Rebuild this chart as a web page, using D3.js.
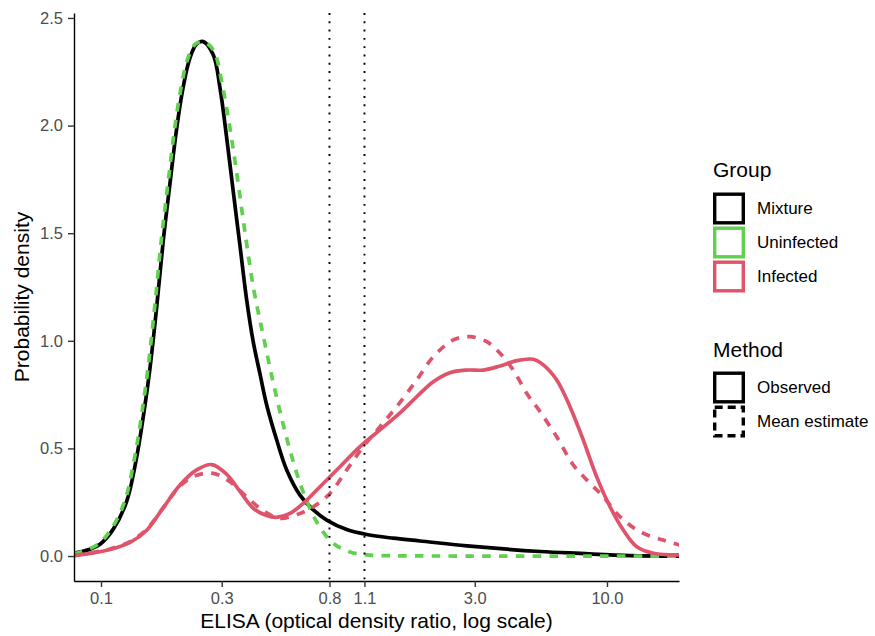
<!DOCTYPE html>
<html>
<head>
<meta charset="utf-8">
<script src="https://cdn.jsdelivr.net/npm/d3@7"></script>
<style>
body { margin: 0; background: #fff; }
text { font-family: "Liberation Sans", Arial, sans-serif; }
</style>
</head>
<body>
<div id="chart"></div>
<script>
var width = 875, height = 636;

// ELISA values (log axis) and densities
var mixtureX = [0.0782, 0.0905, 0.0991, 0.1118, 0.1264, 0.1384, 0.1469, 0.1562, 0.166, 0.1763, 0.1874, 0.1992, 0.2114, 0.2247, 0.2388, 0.2536, 0.2779, 0.2953, 0.3139, 0.3334, 0.3543, 0.3765, 0.3999, 0.425, 0.4517, 0.4949, 0.542, 0.6116, 0.6908, 0.78, 0.9358, 1.1225, 1.426, 1.823, 2.797, 5.435, 7.824, 12.33, 19.3];
var mixtureObserved = [0.013, 0.032, 0.055, 0.125, 0.255, 0.461, 0.647, 0.874, 1.158, 1.468, 1.733, 1.989, 2.181, 2.314, 2.379, 2.390, 2.328, 2.175, 1.942, 1.691, 1.441, 1.190, 0.994, 0.846, 0.702, 0.539, 0.400, 0.283, 0.214, 0.167, 0.123, 0.100, 0.083, 0.070, 0.047, 0.021, 0.012, 0.002, 0.0];

var uninfectedX = [0.0782, 0.0826, 0.0973, 0.1098, 0.1241, 0.1359, 0.1443, 0.1534, 0.163, 0.1731, 0.184, 0.1956, 0.2076, 0.2206, 0.2366, 0.2536, 0.2779, 0.3042, 0.3334, 0.365, 0.3999, 0.438, 0.4798, 0.5255, 0.5756, 0.6304, 0.7123, 0.8259, 0.9643, 1.1225, 1.388, 2.5, 19.3];
var uninfectedMean = [0.012, 0.018, 0.055, 0.125, 0.255, 0.461, 0.647, 0.874, 1.158, 1.468, 1.733, 1.989, 2.181, 2.314, 2.380, 2.390, 2.351, 2.165, 1.887, 1.561, 1.250, 1.022, 0.804, 0.609, 0.437, 0.297, 0.158, 0.060, 0.019, 0.005, 0.0015, 0.0, 0.0];

var infectedX = [0.0782, 0.0905, 0.1085, 0.1302, 0.1516, 0.1763, 0.2052, 0.2388, 0.2739, 0.3139, 0.3542, 0.3999, 0.4518, 0.4949, 0.5585, 0.6303, 0.7337, 0.8805, 1.056, 1.267, 1.52, 1.769, 2.058, 2.395, 2.789, 3.245, 3.777, 4.397, 5.114, 5.6, 6.328, 7.141, 8.058, 9.107, 10.28, 11.6, 13.11, 15.24, 19.4];
var infectedObserved = [0.002, 0.012, 0.030, 0.063, 0.120, 0.225, 0.330, 0.400, 0.425, 0.380, 0.300, 0.222, 0.188, 0.180, 0.198, 0.245, 0.322, 0.415, 0.508, 0.586, 0.665, 0.740, 0.810, 0.852, 0.864, 0.864, 0.883, 0.908, 0.914, 0.888, 0.818, 0.694, 0.539, 0.368, 0.229, 0.121, 0.043, 0.013, 0.005];

var infectedMeanX = [0.0782, 0.0905, 0.1085, 0.1302, 0.1516, 0.1763, 0.2052, 0.2388, 0.2779, 0.3236, 0.3765, 0.438, 0.51, 0.6116, 0.6902, 0.8038, 0.9358, 1.088, 1.267, 1.475, 1.769, 2.058, 2.469, 2.874, 3.346, 3.777, 4.262, 4.815, 5.435, 6.328, 7.359, 8.566, 9.669, 11.25, 13.5, 16.69, 19.4];
var infectedMean = [0.002, 0.014, 0.033, 0.067, 0.125, 0.225, 0.325, 0.375, 0.384, 0.345, 0.275, 0.210, 0.175, 0.198, 0.229, 0.291, 0.400, 0.508, 0.601, 0.694, 0.818, 0.926, 1.004, 1.019, 0.996, 0.942, 0.864, 0.756, 0.671, 0.554, 0.423, 0.338, 0.276, 0.183, 0.113, 0.074, 0.051];

var xTicks = [0.1, 0.3, 0.8, 1.1, 3, 10];
var xTickLabels = ["0.1", "0.3", "0.8", "1.1", "3.0", "10.0"];
var yTicks = [0, 0.5, 1, 1.5, 2, 2.5];
var cutoffs = [0.8, 1.1];

var groupNames = ["Mixture", "Uninfected", "Infected"];
var groupColors = ["#000000", "#61D04F", "#DF536B"];
var methodNames = ["Observed", "Mean estimate"];

var panel = {left: 74, right: 679, top: 13, bottom: 581};

var x = d3.scaleLog()
    .domain([0.0782, 19.26])
    .range([panel.left, panel.right]);

var y = d3.scaleLinear()
    .domain([-0.116, 2.523])
    .range([panel.bottom, panel.top]);

var svg = d3.select("#chart")
    .append("svg")
    .attr("width", width)
    .attr("height", height);

svg.append("defs").append("clipPath")
    .attr("id", "panel-clip")
    .append("rect")
    .attr("x", panel.left)
    .attr("y", panel.top)
    .attr("width", panel.right - panel.left)
    .attr("height", panel.bottom - panel.top);

function zip(xs, ys) {
    return xs.map(function(v, i) { return [v, ys[i]]; });
}

var series = [
    {values: zip(mixtureX, mixtureObserved), color: groupColors[0], dashed: false},
    {values: zip(uninfectedX, uninfectedMean), color: groupColors[1], dashed: true},
    {values: zip(infectedX, infectedObserved), color: groupColors[2], dashed: false},
    {values: zip(infectedMeanX, infectedMean), color: groupColors[2], dashed: true}
];

var line = d3.line()
    .curve(d3.curveCatmullRom.alpha(0.5))
    .x(function(d) { return x(d[0]); })
    .y(function(d) { return y(d[1]); });

svg.append("g")
    .attr("clip-path", "url(#panel-clip)")
    .selectAll("path")
    .data(series)
    .enter().append("path")
    .attr("d", function(d) { return line(d.values); })
    .attr("fill", "none")
    .attr("stroke", function(d) { return d.color; })
    .attr("stroke-width", 3.7)
    .attr("stroke-dasharray", function(d) { return d.dashed ? "8.6,8.2" : null; });

// cut-off lines
svg.append("g").selectAll("line")
    .data(cutoffs)
    .enter().append("line")
    .attr("x1", function(d) { return x(d); })
    .attr("x2", function(d) { return x(d); })
    .attr("y1", panel.top)
    .attr("y2", panel.bottom)
    .attr("stroke", "#000")
    .attr("stroke-width", 1.9)
    .attr("stroke-dasharray", "1.9,6.4");

// axes
var xAxis = svg.append("g")
    .attr("transform", "translate(0," + panel.bottom + ")")
    .call(d3.axisBottom(x)
        .tickValues(xTicks)
        .tickFormat(function(d, i) { return xTickLabels[i]; })
        .tickSize(6)
        .tickSizeOuter(0)
        .tickPadding(5));

var yAxis = svg.append("g")
    .attr("transform", "translate(" + panel.left + ",0)")
    .call(d3.axisLeft(y)
        .tickValues(yTicks)
        .tickFormat(d3.format(".1f"))
        .tickSize(6)
        .tickSizeOuter(0)
        .tickPadding(5));

[xAxis, yAxis].forEach(function(g) {
    g.select(".domain").attr("stroke", "#000").attr("stroke-width", 1.4);
    g.selectAll(".tick line").attr("stroke", "#333").attr("stroke-width", 1.4);
    g.selectAll(".tick text")
        .attr("fill", "#4d4d4d")
        .style("font-size", "16.5px")
        .style("font-family", "Liberation Sans, Arial, sans-serif");
});

svg.append("text")
    .attr("x", (panel.left + panel.right) / 2)
    .attr("y", 628)
    .attr("text-anchor", "middle")
    .style("font-size", "21px")
    .text("ELISA (optical density ratio, log scale)");

svg.append("text")
    .attr("transform", "translate(29," + ((panel.top + panel.bottom) / 2) + ") rotate(-90)")
    .attr("text-anchor", "middle")
    .style("font-size", "21px")
    .text("Probability density");

// legends
var legendX = 713;

svg.append("text")
    .attr("x", legendX)
    .attr("y", 177)
    .style("font-size", "21px")
    .text("Group");

var groupKeys = svg.append("g").selectAll("g")
    .data(groupNames)
    .enter().append("g")
    .attr("transform", function(d, i) { return "translate(" + legendX + "," + (192.5 + i * 34) + ")"; });

groupKeys.append("rect")
    .attr("x", 1.7).attr("y", 1.7)
    .attr("width", 28.6).attr("height", 28.6)
    .attr("fill", "#fff")
    .attr("stroke", function(d, i) { return groupColors[i]; })
    .attr("stroke-width", 3.4);

groupKeys.append("text")
    .attr("x", 44)
    .attr("y", 16)
    .attr("dy", "0.35em")
    .style("font-size", "17px")
    .text(function(d) { return d; });

svg.append("text")
    .attr("x", legendX)
    .attr("y", 357)
    .style("font-size", "21px")
    .text("Method");

var methodKeys = svg.append("g").selectAll("g")
    .data(methodNames)
    .enter().append("g")
    .attr("transform", function(d, i) { return "translate(" + legendX + "," + (371.5 + i * 34) + ")"; });

methodKeys.append("rect")
    .attr("x", 1.7).attr("y", 1.7)
    .attr("width", 28.6).attr("height", 28.6)
    .attr("fill", "#fff")
    .attr("stroke", "#000")
    .attr("stroke-width", 3.4)
    .attr("stroke-dasharray", function(d, i) { return i === 1 ? "8,5" : null; });

methodKeys.append("text")
    .attr("x", 44)
    .attr("y", 16)
    .attr("dy", "0.35em")
    .style("font-size", "17px")
    .text(function(d) { return d; });
</script>
</body>
</html>
